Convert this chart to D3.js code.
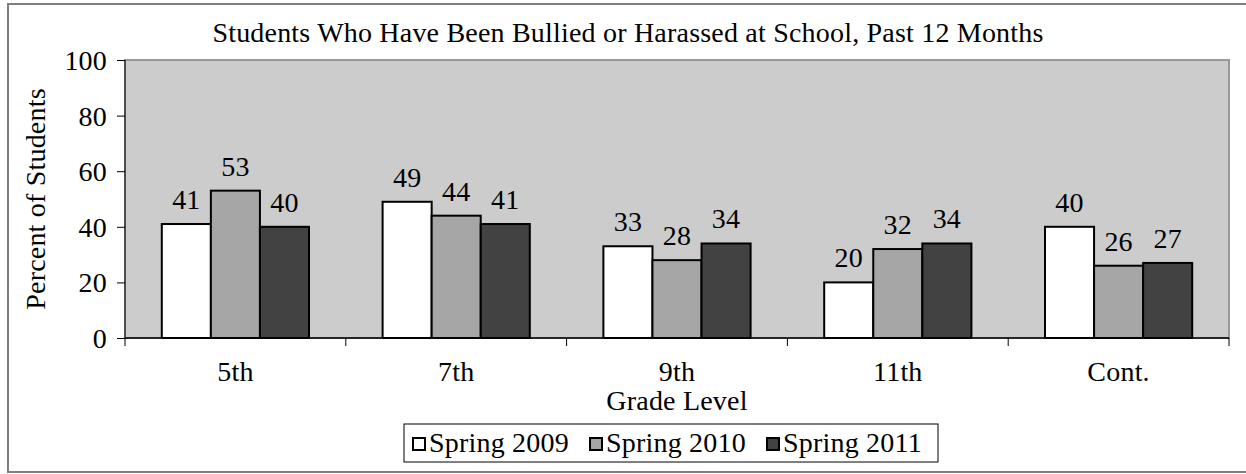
<!DOCTYPE html>
<html><head><meta charset="utf-8">
<script src="https://cdn.jsdelivr.net/npm/d3@7"></script>
<style>
html,body{margin:0;padding:0;background:#fff;}
svg{display:block;}
text{font-family:"Liberation Serif","Times New Roman",serif;fill:#000;letter-spacing:0.2px;}
</style></head>
<body>
<svg id="c" width="1246" height="474"></svg>
<script>
const title = "Students Who Have Been Bullied or Harassed at School, Past 12 Months";
const categories = ["5th", "7th", "9th", "11th", "Cont."];
const seriesNames = ["Spring 2009", "Spring 2010", "Spring 2011"];
const spring2009 = [41, 49, 33, 20, 40];
const spring2010 = [53, 44, 28, 32, 26];
const spring2011 = [40, 41, 34, 34, 27];
const yTicks = [0, 20, 40, 60, 80, 100];
const seriesColors = ["#ffffff", "#a6a6a6", "#424242"];

const series = [spring2009, spring2010, spring2011];
const svg = d3.select("#c");
const FS = 28;

// outer border
svg.append("rect").attr("x", 8).attr("y", 4).attr("width", 1250).attr("height", 468)
  .attr("fill", "#fff").attr("stroke", "#7f7f7f").attr("stroke-width", 2);

const L = 125, R = 1229, T = 60, B = 338;
const x = d3.scaleBand().domain(categories).range([L, R]).padding(0);
const y = d3.scaleLinear().domain([0, 100]).range([B, T]);
const bw = x.bandwidth() / 4.5;
const xs = d3.scaleBand().domain(seriesNames).range([0, 3 * bw]);

// plot area
svg.append("rect").attr("x", L).attr("y", T).attr("width", R - L).attr("height", B - T)
  .attr("fill", "#cccccc").attr("stroke", "#999999").attr("stroke-width", 2);

// bars
categories.forEach((c, i) => {
  const g = svg.append("g").attr("transform", `translate(${x(c) + x.bandwidth() / 2 - 1.5 * bw},0)`);
  seriesNames.forEach((s, j) => {
    const v = series[j][i];
    g.append("rect").attr("x", xs(s)).attr("y", y(v)).attr("width", bw).attr("height", y(0) - y(v))
      .attr("fill", seriesColors[j]).attr("stroke", "#000").attr("stroke-width", 2);
    g.append("text").attr("x", xs(s) + bw / 2).attr("y", y(v) - 15)
      .attr("text-anchor", "middle").attr("font-size", FS).text(v);
  });
});

// y axis
const yAxis = d3.axisLeft(y).tickValues(yTicks).tickSize(8).tickPadding(10).tickFormat(d3.format("d"));
const ya = svg.append("g").attr("transform", `translate(${L},0)`).call(yAxis);
ya.selectAll("text").attr("font-size", FS).attr("font-family", "Liberation Serif").attr("fill", "#000").attr("dy", "0.34em");
ya.selectAll("line").attr("stroke", "#000");
ya.select(".domain").attr("stroke", "#000").attr("d", `M0,${T}V${B}`);

// x axis with boundary ticks
const xa = svg.append("g").attr("transform", `translate(0,${B})`);
xa.append("line").attr("x1", L).attr("x2", R).attr("stroke", "#000").attr("stroke-width", 1.5);
const bounds = categories.map(c => x(c)).concat([x(categories[categories.length - 1]) + x.bandwidth()]);
xa.selectAll(".bt").data(bounds).enter().append("line")
  .attr("x1", d => d).attr("x2", d => d).attr("y1", 0).attr("y2", 8).attr("stroke", "#000");
xa.selectAll(".lbl").data(categories).enter().append("text")
  .attr("x", d => x(d) + x.bandwidth() / 2).attr("y", 43).attr("text-anchor", "middle")
  .attr("font-size", FS).text(d => d);

// axis titles
svg.append("text").attr("x", 677).attr("y", 410).attr("text-anchor", "middle").attr("font-size", FS).text("Grade Level");
svg.append("text").attr("transform", `translate(45,${(T + B) / 2}) rotate(-90)`)
  .attr("text-anchor", "middle").attr("font-size", FS).text("Percent of Students");

// title
svg.append("text").attr("x", 628).attr("y", 42).attr("text-anchor", "middle").attr("font-size", FS).text(title);

// legend
const lg = svg.append("g");
lg.append("rect").attr("x", 404).attr("y", 424).attr("width", 534).attr("height", 38)
  .attr("fill", "#fff").attr("stroke", "#000").attr("stroke-width", 1);
const lx = [413, 590, 767];
seriesNames.forEach((s, j) => {
  lg.append("rect").attr("x", lx[j]).attr("y", 438).attr("width", 12).attr("height", 12)
    .attr("fill", seriesColors[j]).attr("stroke", "#000").attr("stroke-width", 2);
  lg.append("text").attr("x", lx[j] + 16).attr("y", 452).attr("font-size", FS).text(s);
});
</script>
</body></html>
